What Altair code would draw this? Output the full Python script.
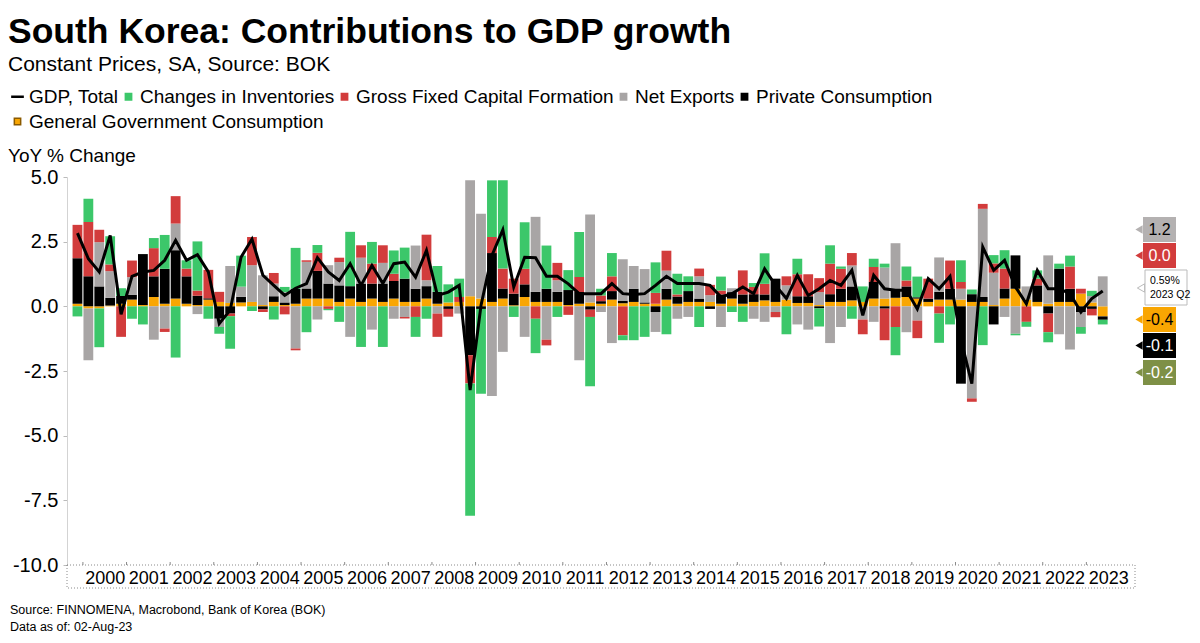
import altair as alt
import pandas as pd

FONT = "Liberation Sans"

# ---------------- data ----------------
quarters = ["1999 Q4"] + [f"{y} Q{q}" for y in range(2000, 2023) for q in (1, 2, 3, 4)] + ["2023 Q1", "2023 Q2"]

gov = [0.10, -0.08, -0.08, 0.03, 0.10, 0.26, 0.05, 0.36, 0.10, 0.30,
       0.10, 0.05, 0.26, 0.17, 0.13, 0.15, 0.17, 0.05, 0.17, 0.05,
       0.10, 0.30, 0.30, 0.30, 0.17, 0.30, 0.17, 0.30, 0.17, 0.30,
       0.17, 0.17, 0.30, 0.10, 0.15, 0.17, 0.39, 0.30, 0.17, 0.30,
       0.04, 0.36, 0.17, 0.17, 0.17, 0.05, 0.10, 0.15, 0.10, 0.26,
       0.12, 0.17, 0.10, 0.10, 0.26, 0.10, 0.17, 0.17, 0.17, 0.10,
       0.30, 0.10, 0.17, 0.23, 0.17, 0.26, 0.13, 0.13, 0.05, 0.17,
       0.17, 0.23, 0.17, 0.30, 0.30, 0.33, 0.36, 0.30, 0.17, 0.26,
       0.26, 0.26, 0.17, 0.17, 0.05, 0.30, 0.68, 0.26, 0.17, 0.10,
       0.17, 0.17, 0.49, 0.15, -0.39]

priv = [1.76, 1.16, 0.77, 0.30, 0.30, 0.19, 1.97, 0.80, 1.35, 1.87,
        1.06, 0.36, 0.05, -0.48, -0.28, 0.22, 0.00, -0.12, 0.22, 0.10,
        0.58, 0.39, 1.07, 0.58, 0.64, 0.48, 0.71, 0.58, 0.71, 0.68,
        0.90, 0.51, 0.48, 0.46, -0.10, 0.00, -1.89, -0.10, 1.89, 0.39,
        0.45, 0.49, 0.39, 0.51, 0.39, 0.58, 0.45, -0.13, 0.10, 0.33,
        0.10, 0.51, 0.05, -0.22, 0.42, 0.28, 0.42, 0.13, -0.10, 0.36,
        0.25, 0.36, 0.30, 0.23, 0.90, 0.00, 0.26, 0.26, -0.08, 0.30,
        0.51, 0.54, 0.00, 0.64, -0.09, 0.28, 0.41, 0.05, 0.13, 0.30,
        0.42, -2.99, 0.30, 0.19, -0.70, 0.39, 1.29, 0.00, 0.64, -0.28,
        1.29, 0.51, -0.22, -0.10, -0.13]

net = [0.00, -2.00, 1.71, 1.03, 0.00, 0.68, 0.00, -1.29, -0.86, 1.03,
       0.00, -0.30, 0.00, -0.32, 1.43, 0.39, 1.42, 1.15, 0.49, 0.40,
       -1.63, 1.03, -0.51, 0.71, 0.90, -1.18, 1.00, -0.90, 0.80, -0.48,
       -0.41, 1.67, 0.23, -0.28, 0.00, -0.28, 4.48, 3.28, -3.47, -1.76,
       0.00, -1.18, 2.90, -1.29, 0.45, 0.00, -2.08, 3.40, -0.22, -1.42,
       1.60, 0.88, 1.29, -0.77, 0.70, -0.48, -0.41, 0.86, 0.26, -0.80,
       0.15, 0.00, -0.48, -0.60, -0.22, 0.55, -0.70, -0.90, 0.50, -1.42,
       -0.80, 0.81, -0.51, -0.60, 1.20, 1.83, -1.00, -0.55, 0.00, 1.33,
       0.00, 0.42, -3.56, 3.41, 1.25, -0.41, -1.06, 0.51, 0.00, 1.87,
       -1.08, -1.67, -0.58, 0.25, 1.16]

gfcf = [1.29, 2.10, 0.48, 0.26, -1.18, 0.64, 0.00, 1.09, -0.13, 1.06,
        0.30, 0.20, 1.10, 0.39, -0.10, 0.00, 1.09, -0.10, 0.41, -0.31,
        -0.07, 0.06, 0.70, -0.10, 0.17, 0.00, 0.48, 0.77, 0.68, 0.28,
        -0.06, -0.41, 1.76, -0.90, -0.30, 0.19, -1.09, 0.00, 0.62, 0.77,
        0.58, 0.60, -0.48, -0.22, 0.67, -0.33, 0.58, -0.28, 0.22, 0.57,
        -1.12, 0.00, 0.00, 0.42, 0.77, 0.08, 0.00, 0.30, 0.40, 0.15,
        0.00, 0.93, 0.28, 0.41, -0.20, 0.35, 0.85, 0.85, 0.54, 1.18,
        0.77, 0.48, -0.57, 0.58, -1.22, -0.80, 0.23, -0.68, 0.77, -0.28,
        1.09, 0.26, -0.13, 0.19, 0.36, 0.77, 0.00, -0.60, 0.26, -0.72,
        0.00, 0.86, 0.19, -0.25, 0.00]

inv = [-0.39, 0.90, -1.50, 1.09, 0.30, -0.48, -0.70, 0.39, 1.31, -1.98,
       0.32, 1.90, -0.48, -0.26, -1.26, 1.20, -0.18, 0.00, -0.51, 0.20,
       1.58, -1.00, 0.30, -0.05, -0.60, 2.10, -1.57, 0.84, -1.57, 0.90,
       1.20, -0.77, -0.48, 1.00, 0.70, 0.71, -5.12, -3.28, 2.19, 3.41,
       -0.41, 1.80, -1.33, 1.67, -0.41, 0.77, 1.74, -2.68, 0.26, 0.90,
       -0.19, -1.31, -1.18, 1.18, -1.08, 0.80, 0.57, -0.80, 0.00, 0.54,
       -0.22, -0.60, 0.15, 1.18, 0.00, -1.08, 0.60, 0.00, -0.70, 0.71,
       0.09, -0.48, 0.60, 0.32, 0.15, -1.09, 0.54, 0.80, 0.00, -1.13,
       -0.70, 0.84, 0.18, -1.50, 0.32, 0.71, -0.06, -0.19, 0.32, -0.39,
       0.19, 0.42, -0.26, 0.20, -0.18]

gdp = [2.83, 1.84, 1.33, 2.74, -0.31, 1.16, 1.33, 1.39, 1.78, 2.55,
       1.78, 2.00, 1.33, -0.67, -0.15, 1.90, 2.60, 1.20, 0.81, 0.42,
       0.70, 0.88, 1.88, 1.33, 1.00, 1.65, 0.81, 1.58, 0.88, 1.65,
       1.71, 1.13, 2.16, 0.42, 0.55, 0.81, -3.24, 0.04, 1.97, 2.96,
       0.75, 1.90, 1.88, 1.16, 1.16, 0.87, 0.49, 0.49, 0.49, 0.88,
       0.49, 0.46, 0.49, 0.81, 1.16, 0.88, 0.88, 0.88, 0.81, 0.36,
       0.49, 0.75, 0.49, 1.45, 0.81, 0.30, 1.20, 0.42, 0.68, 1.00,
       0.81, 1.39, -0.35, 1.20, 0.68, 0.62, 0.62, -0.10, 1.07, 0.68,
       1.16, -1.30, -2.99, 2.29, 1.39, 1.78, 0.75, 0.10, 1.39, 0.68,
       0.68, 0.49, -0.22, 0.30, 0.59]

year_labels = list(range(2000, 2024))

# legend, first row
row1_names = ["GDP, Total", "Changes in Inventories", "Gross Fixed Capital Formation",
              "Net Exports", "Private Consumption"]
row1_fill = ["#000000", "#3CC76A", "#D23C3C", "#A8A5A5", "#000000"]
row1_shape = ["M-2.4,0H2.4", "square", "square", "square", "square"]
# legend, second row
row2_names = ["General Government Consumption"]
row2_fill = ["#F9A602"]
row2_stroke = ["#8B5A00"]

# stacking order from zero outward
stack_names = ["General Government Consumption", "Private Consumption", "Net Exports",
               "Gross Fixed Capital Formation", "Changes in Inventories"]
stack_colors = ["#F9A602", "#000000", "#A8A5A5", "#D23C3C", "#3CC76A"]
stack_values = [gov, priv, net, gfcf, inv]

# ---------------- tables ----------------
def qpos(label):
    y, q = label.split(" Q")
    return int(y) + (int(q) - 0.5) / 4

xcs = [qpos(q) for q in quarters]
rows = []
for i, ql in enumerate(quarters):
    for o, (name, vals) in enumerate(zip(stack_names, stack_values)):
        rows.append({"quarter": ql, "xc": xcs[i], "series": name, "value": vals[i], "ord": o})
bars_df = pd.DataFrame(rows)
gdp_df = pd.DataFrame({"quarter": quarters, "xc": xcs, "gdp": gdp})
leg1_df = pd.DataFrame({"series": row1_names, "xc": [None] * len(row1_names), "value": [None] * len(row1_names)})
leg2_df = pd.DataFrame({"series2": row2_names, "xc": [None], "value": [None]})
bound_df = pd.DataFrame({"b": [float(y) for y in year_labels]})

W, H = 1068, 388

xscale = alt.Scale(domain=[1999.75, 2024.0], nice=False, zero=False)
yscale = alt.Scale(domain=[-10, 5], nice=False)

xaxis = alt.Axis(values=[y + 0.5 for y in year_labels], labelExpr="'' + floor(datum.value)",
                 ticks=False, tickSize=0, domain=False, grid=False, title=None,
                 labelFont=FONT, labelFontSize=18, labelColor="#000000", labelPadding=4,
                 labelFlush=False, labelOverlap=False)
yaxis = alt.Axis(values=[5, 2.5, 0, -2.5, -5, -7.5, -10],
                 labelExpr="(datum.value < 0 ? '-' : '') + format(abs(datum.value), '.1f')",
                 grid=False, title=None, labelFont=FONT, labelFontSize=20, labelColor="#000000",
                 tickSize=4, tickColor="#BBBBBB", domainColor="#D3D3D3", labelPadding=5)

bars = alt.Chart(bars_df).mark_bar(width=9.8).encode(
    x=alt.X("xc:Q", scale=xscale, axis=xaxis),
    y=alt.Y("value:Q", stack="zero", scale=yscale, axis=yaxis),
    color=alt.Color("series:N", scale=alt.Scale(domain=stack_names, range=stack_colors), legend=None),
    order=alt.Order("ord:Q", sort="ascending"),
)

line = alt.Chart(gdp_df).mark_line(color="#000000", strokeWidth=3, strokeJoin="miter").encode(
    x=alt.X("xc:Q", scale=xscale), y=alt.Y("gdp:Q", scale=yscale)
)

leg1 = alt.Legend(orient="none", legendX=-59, legendY=-90, direction="horizontal",
                  title=None, labelFont=FONT, labelFontSize=19, labelColor="#000000",
                  labelLimit=600, symbolSize=28, symbolStrokeWidth=2.5, columnPadding=0,
                  labelOffset=2, padding=0, symbolOffset=0)
legend_row1 = alt.Chart(leg1_df).mark_point(size=28, opacity=1).encode(
    x=alt.X("xc:Q", scale=xscale),
    y=alt.Y("value:Q", scale=yscale),
    fill=alt.Fill("series:N", scale=alt.Scale(domain=row1_names, range=row1_fill), legend=leg1),
    stroke=alt.Stroke("series:N", scale=alt.Scale(domain=row1_names, range=row1_fill), legend=leg1),
    shape=alt.Shape("series:N", scale=alt.Scale(domain=row1_names, range=row1_shape), legend=leg1),
)

leg2 = alt.Legend(orient="none", legendX=-59, legendY=-65, direction="horizontal",
                  title=None, labelFont=FONT, labelFontSize=19, labelColor="#000000",
                  labelLimit=600, symbolSize=40, symbolStrokeWidth=1.5, labelOffset=2,
                  padding=0, symbolOffset=0)
legend_row2 = alt.Chart(leg2_df).mark_point(size=40, opacity=1).encode(
    x=alt.X("xc:Q", scale=xscale),
    y=alt.Y("value:Q", scale=yscale),
    fill=alt.Fill("series2:N", scale=alt.Scale(domain=row2_names, range=row2_fill), legend=leg2),
    stroke=alt.Stroke("series2:N", scale=alt.Scale(domain=row2_names, range=row2_stroke), legend=leg2),
    shape=alt.Shape("series2:N", scale=alt.Scale(domain=row2_names, range=["square"]), legend=leg2),
)

# dotted frame around the x axis labels and year boundary ticks
frame = alt.Chart(pd.DataFrame({"a": [0]})).mark_rect(
    fillOpacity=0, stroke="#8A8A8A", strokeWidth=1, strokeDash=[1, 2]
).encode(x=alt.value(0), x2=alt.value(W), y=alt.value(H), y2=alt.value(H + 23))

year_ticks = alt.Chart(bound_df).mark_rule(color="#8A8A8A", strokeWidth=1).encode(
    x=alt.X("b:Q", scale=xscale), y=alt.value(H - 3), y2=alt.value(H)
)


def txt(s, x, y, size, weight="normal", color="#000000", align="left", baseline="alphabetic"):
    return alt.Chart(pd.DataFrame({"t": [s]})).mark_text(
        align=align, baseline=baseline, font=FONT, fontSize=size, fontWeight=weight, color=color
    ).encode(x=alt.value(x), y=alt.value(y), text="t:N")


texts = [
    txt("South Korea: Contributions to GDP growth", -59, -134, 35.5, "bold"),
    txt("Constant Prices, SA, Source: BOK", -59, -106, 21),
    txt("YoY % Change", -59, -15, 19),
    txt("Source: FINNOMENA, Macrobond, Bank of Korea (BOK)", -57, 437, 12.5),
    txt("Data as of: 02-Aug-23", -57, 454, 12.5),
]

# last-value callouts on the right
callout_text = [f"{net[-1]:.1f}", f"{gfcf[-1]:.1f}", f"{gov[-1]:.1f}", f"{priv[-1]:.1f}", f"{inv[-1]:.1f}"]
callout_fill = ["#B4B1B1", "#D23C3C", "#F9A602", "#000000", "#7E9046"]
callout_tcol = ["#000000", "#FFFFFF", "#000000", "#FFFFFF", "#FFFFFF"]
callout_top = [40, 66, 130, 156, 183]

calls = []
for t, f, c, top in zip(callout_text, callout_fill, callout_tcol, callout_top):
    one = pd.DataFrame({"t": [t]})
    calls.append(alt.Chart(one).mark_point(shape="triangle-left", filled=True, size=70, color=f, opacity=1).encode(
        x=alt.value(1072), y=alt.value(top + 12.5)))
    calls.append(alt.Chart(one).mark_rect(color=f).encode(
        x=alt.value(1076), x2=alt.value(1109), y=alt.value(top), y2=alt.value(top + 25)))
    calls.append(alt.Chart(one).mark_text(font=FONT, fontSize=16, color=c, align="center", baseline="middle").encode(
        x=alt.value(1092.5), y=alt.value(top + 13), text="t:N"))

gdp_box = pd.DataFrame({"t": [f"{gdp[-1]:.2f}%"], "q": [quarters[-1]]})
calls.append(alt.Chart(gdp_box).mark_point(shape="triangle-left", filled=True, size=70, color="#FFFFFF",
                                           stroke="#BBBBBB", strokeWidth=1, opacity=1).encode(
    x=alt.value(1074), y=alt.value(111)))
calls.append(alt.Chart(gdp_box).mark_rect(color="#FFFFFF", stroke="#BBBBBB", strokeWidth=1).encode(
    x=alt.value(1078), x2=alt.value(1120), y=alt.value(93), y2=alt.value(128)))
calls.append(alt.Chart(gdp_box).mark_text(font=FONT, fontSize=10.5, color="#000000", align="left", baseline="middle").encode(
    x=alt.value(1083), y=alt.value(104), text="t:N"))
calls.append(alt.Chart(gdp_box).mark_text(font=FONT, fontSize=10.5, color="#000000", align="left", baseline="middle").encode(
    x=alt.value(1083), y=alt.value(118), text="q:N"))

chart = alt.layer(
    bars, line, legend_row1, legend_row2, frame, year_ticks, *texts, *calls
).resolve_scale(
    fill="independent", stroke="independent", shape="independent"
).properties(
    width=W, height=H,
    autosize=alt.AutoSizeParams(type="none"),
    padding={"left": 59, "top": 169, "right": 57, "bottom": 70},
    background="#FFFFFF",
).configure_view(stroke=None)

chart.save("out.html", embed_options={"renderer": "svg", "actions": False})
